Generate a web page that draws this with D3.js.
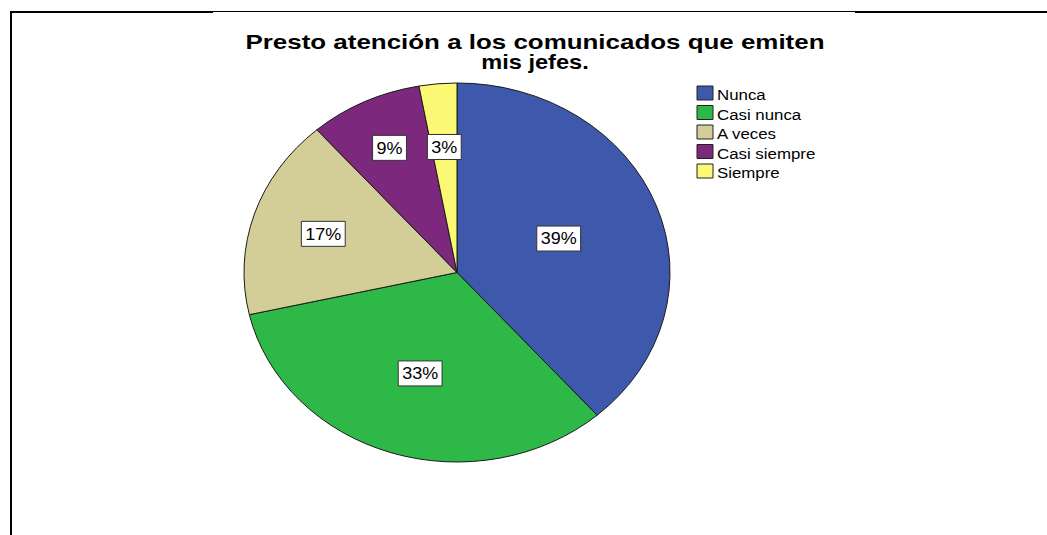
<!DOCTYPE html>
<html>
<head>
<meta charset="utf-8">
<script src="https://cdn.jsdelivr.net/npm/d3@7"></script>
<style>
  body { margin: 0; background: #fff; }
  svg { display: block; font-family: Arial, "Liberation Sans", sans-serif; }
</style>
</head>
<body>
<svg id="chart"></svg>
<script>
// datos (n = 70)
const categories = ["Nunca", "Casi nunca", "A veces", "Casi siempre", "Siempre"];
const counts = [27, 23, 12, 6, 2];
const colors = ["#3e58ac", "#2eb848", "#d3ce97", "#7c287d", "#fbf873"];
const titleLines = ["Presto atención a los comunicados que emiten", "mis jefes."];

// distancia de cada etiqueta al centro (fracción del radio)
const labelRadius = [0.51, 0.56, 0.66, 0.73, 0.665];

const W = 1047, H = 535;
const sx = 213 / 189.5;   // la imagen original está estirada en horizontal

const svg = d3.select("#chart").attr("width", W).attr("height", H);

// marco
svg.append("line").attr("x1", 11).attr("y1", 12).attr("x2", 11).attr("y2", H)
  .attr("stroke", "#000").attr("stroke-width", 2);
svg.append("line").attr("x1", 10).attr("y1", 12).attr("x2", 213).attr("y2", 12)
  .attr("stroke", "#000").attr("stroke-width", 2);
svg.append("line").attr("x1", 213).attr("y1", 11.5).attr("x2", 855).attr("y2", 11.5)
  .attr("stroke", "#000").attr("stroke-width", 1);
svg.append("line").attr("x1", 855).attr("y1", 12).attr("x2", W).attr("y2", 12)
  .attr("stroke", "#000").attr("stroke-width", 2);

const g = svg.append("g").attr("transform", `scale(${sx},1)`);

// título (dos líneas)
g.append("g")
  .selectAll("text")
  .data(titleLines)
  .join("text")
    .attr("x", 535 / sx)
    .attr("y", (d, i) => 49 + i * 20.5)
    .attr("text-anchor", "middle")
    .attr("font-weight", "bold")
    .attr("font-size", 21)
    .attr("fill", "#000")
    .attr("textLength", (d, i) => i === 0 ? 579 / sx : null)
    .attr("lengthAdjust", "spacingAndGlyphs")
    .text(d => d);

// pastel
const R = 189.5;
const cx = 457 / sx, cy = 272.5;
const total = d3.sum(counts);
const pct = d3.format(".0%");

const pie = d3.pie().sort(null).value(d => d.value);
const arcs = pie(categories.map((c, i) => ({ name: c, value: counts[i], i })));
const arc = d3.arc().innerRadius(0).outerRadius(R);

const pg = g.append("g").attr("transform", `translate(${cx},${cy})`);

pg.selectAll("path")
  .data(arcs)
  .join("path")
    .attr("d", arc)
    .attr("fill", d => colors[d.data.i])
    .attr("stroke", "#1a1a1a")
    .attr("stroke-width", 1)
    .attr("vector-effect", "non-scaling-stroke");

// etiquetas de porcentaje
const lab = pg.selectAll("g.lab")
  .data(arcs)
  .join("g")
    .attr("class", "lab")
    .attr("transform", d => {
      const a = (d.startAngle + d.endAngle) / 2;
      const r = R * labelRadius[d.data.i];
      return `translate(${Math.sin(a) * r},${-Math.cos(a) * r})`;
    });

lab.append("rect");
lab.append("text")
  .attr("text-anchor", "middle")
  .attr("dy", "0.36em")
  .attr("font-size", 16)
  .attr("fill", "#000")
  .text(d => pct(d.data.value / total));

lab.each(function() {
  const t = d3.select(this).select("text").node().getBBox();
  d3.select(this).select("rect")
    .attr("x", -t.width / 2 - 3.5)
    .attr("y", -12.5)
    .attr("width", t.width + 7)
    .attr("height", 25)
    .attr("fill", "#fff")
    .attr("stroke", "#333")
    .attr("stroke-width", 1)
    .attr("vector-effect", "non-scaling-stroke");
});

// leyenda
const leg = g.append("g")
  .selectAll("g")
  .data(categories)
  .join("g")
    .attr("transform", (d, i) => `translate(${697 / sx},${86 + i * 19.5})`);

leg.append("rect")
  .attr("width", 16 / sx)
  .attr("height", 14)
  .attr("fill", (d, i) => colors[i])
  .attr("stroke", "#222")
  .attr("stroke-width", 1)
  .attr("vector-effect", "non-scaling-stroke");

leg.append("text")
  .attr("x", 20 / sx)
  .attr("y", 14.5)
  .attr("font-size", 15)
  .attr("fill", "#000")
  .text(d => d);
</script>
</body>
</html>
